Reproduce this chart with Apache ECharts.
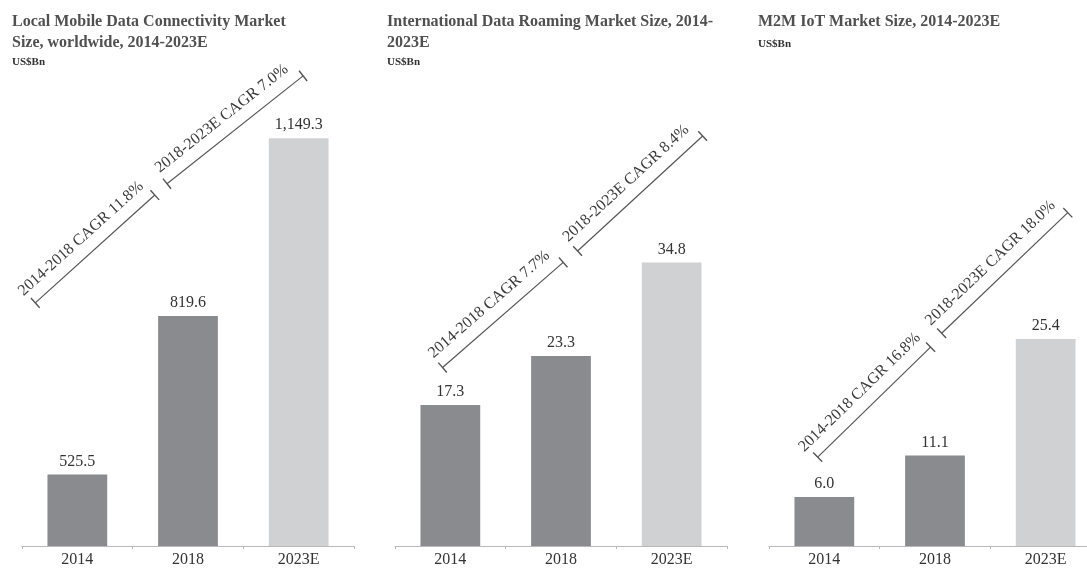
<!DOCTYPE html>
<html>
<head>
<meta charset="utf-8">
<script src="https://cdn.jsdelivr.net/npm/echarts@6/dist/echarts.min.js"></script>
<style>
  html, body { margin: 0; padding: 0; background: #fff; overflow: hidden; }
  /* the right panel runs past the picture's right edge, as in the source */
  #main { width: 1104px; height: 568px; }
</style>
</head>
<body>
<div id="main"></div>
<script>
// data
var years = ['2014', '2018', '2023E'];
var localMobile = [525.5, 819.6, 1149.3];
var intlRoaming = [17.3, 23.3, 34.8];
var m2mIot = [6.0, 11.1, 25.4];

var titles = [
    'Local Mobile Data Connectivity Market\nSize, worldwide, 2014-2023E',
    'International Data Roaming Market Size, 2014-\n2023E',
    'M2M IoT Market Size, 2014-2023E'
];
var unitLabel = 'US$Bn';

var cagrLabels = [
    ['2014-2018 CAGR 11.8%', '2018-2023E CAGR 7.0%'],
    ['2014-2018 CAGR 7.7%', '2018-2023E CAGR 8.4%'],
    ['2014-2018 CAGR 16.8%', '2018-2023E CAGR 18.0%']
];
// annotation bracket ends, in [category position, value] of each panel
var cagrEnds = [
    [[[-0.38, 844], [0.70, 1044]], [[0.81, 1065], [2.04, 1265]]],
    [[[-0.07, 21.9], [1.02, 34.8]], [[1.15, 36.2], [2.28, 50.3]]],
    [[[-0.06, 10.9], [0.96, 24.4]], [[1.06, 26.1], [2.20, 40.9]]]
];

var seriesData = [localMobile, intlRoaming, m2mIot];
var yRanges = [[393, 1300], [0, 60], [0, 60]];
var barColors = ['#8a8b8f', '#8a8b8f', '#d0d1d3'];
var serif = '"Liberation Serif", "Times New Roman", serif';

var chart = echarts.init(document.getElementById('main'));

function fmt(v) {
    return v.toLocaleString('en-US', { minimumFractionDigits: 1, maximumFractionDigits: 1 });
}

var gridLefts = [22, 395, 769];
var titleLefts = [12, 387, 758];
var unitTops = [57, 57, 39];

var option = {
    animation: false,
    title: [],
    grid: [],
    xAxis: [],
    yAxis: [],
    series: []
};

for (var i = 0; i < 3; i++) {
    option.title.push({
        text: titles[i],
        left: titleLefts[i],
        top: 11,
        padding: 0,
        textStyle: { fontFamily: serif, fontSize: 16, fontWeight: 'bold', color: '#505050', lineHeight: 21 }
    });
    option.title.push({
        text: unitLabel,
        left: titleLefts[i],
        top: unitTops[i],
        padding: 0,
        textStyle: { fontFamily: serif, fontSize: 11, fontWeight: 'bold', color: '#333' }
    });
    option.grid.push({ left: gridLefts[i], top: 57, width: 332, height: 489 });
    option.xAxis.push({
        type: 'category',
        gridIndex: i,
        data: years,
        axisLine: { lineStyle: { color: '#b8b8b8', width: 1 } },
        axisTick: { show: true, length: 3, lineStyle: { color: '#b8b8b8' } },
        axisLabel: { margin: 6, fontFamily: serif, fontSize: 16, color: '#333' }
    });
    option.xAxis.push({
        type: 'value',
        gridIndex: i,
        min: -0.5,
        max: 2.5,
        show: false
    });
    option.yAxis.push({
        type: 'value',
        gridIndex: i,
        min: yRanges[i][0],
        max: yRanges[i][1],
        show: false,
        splitLine: { show: false }
    });
    option.series.push({
        type: 'bar',
        xAxisIndex: i * 2,
        yAxisIndex: i,
        barWidth: '54%',
        data: seriesData[i].map(function (v, k) {
            return { value: v, itemStyle: { color: barColors[k] } };
        }),
        label: {
            show: true,
            position: 'top',
            distance: 5,
            fontFamily: serif,
            fontSize: 16,
            color: '#333',
            formatter: function (p) { return fmt(p.value); }
        }
    });

    var lines = [];
    for (var j = 0; j < 2; j++) {
        var ends = cagrEnds[i][j];
        lines.push([
            { name: cagrLabels[i][j], coord: ends[0], symbol: 'rect', symbolSize: [13, 1.4] },
            { coord: ends[1], symbol: 'rect', symbolSize: [13, 1.4] }
        ]);
    }
    option.series.push({
        type: 'scatter',
        xAxisIndex: i * 2 + 1,
        yAxisIndex: i,
        data: [],
        silent: true,
        markLine: {
            silent: true,
            precision: 2,
            lineStyle: { color: '#555', width: 1.2, type: 'solid' },
            label: {
                show: true,
                position: 'middle',
                distance: 9,
                padding: [0, 7, 0, 0],
                fontFamily: serif,
                fontSize: 16,
                color: '#3a3a3a',
                formatter: function (p) { return p.name; }
            },
            emphasis: { disabled: true },
            data: lines
        }
    });
}

option && chart.setOption(option, true);
</script>
</body>
</html>
